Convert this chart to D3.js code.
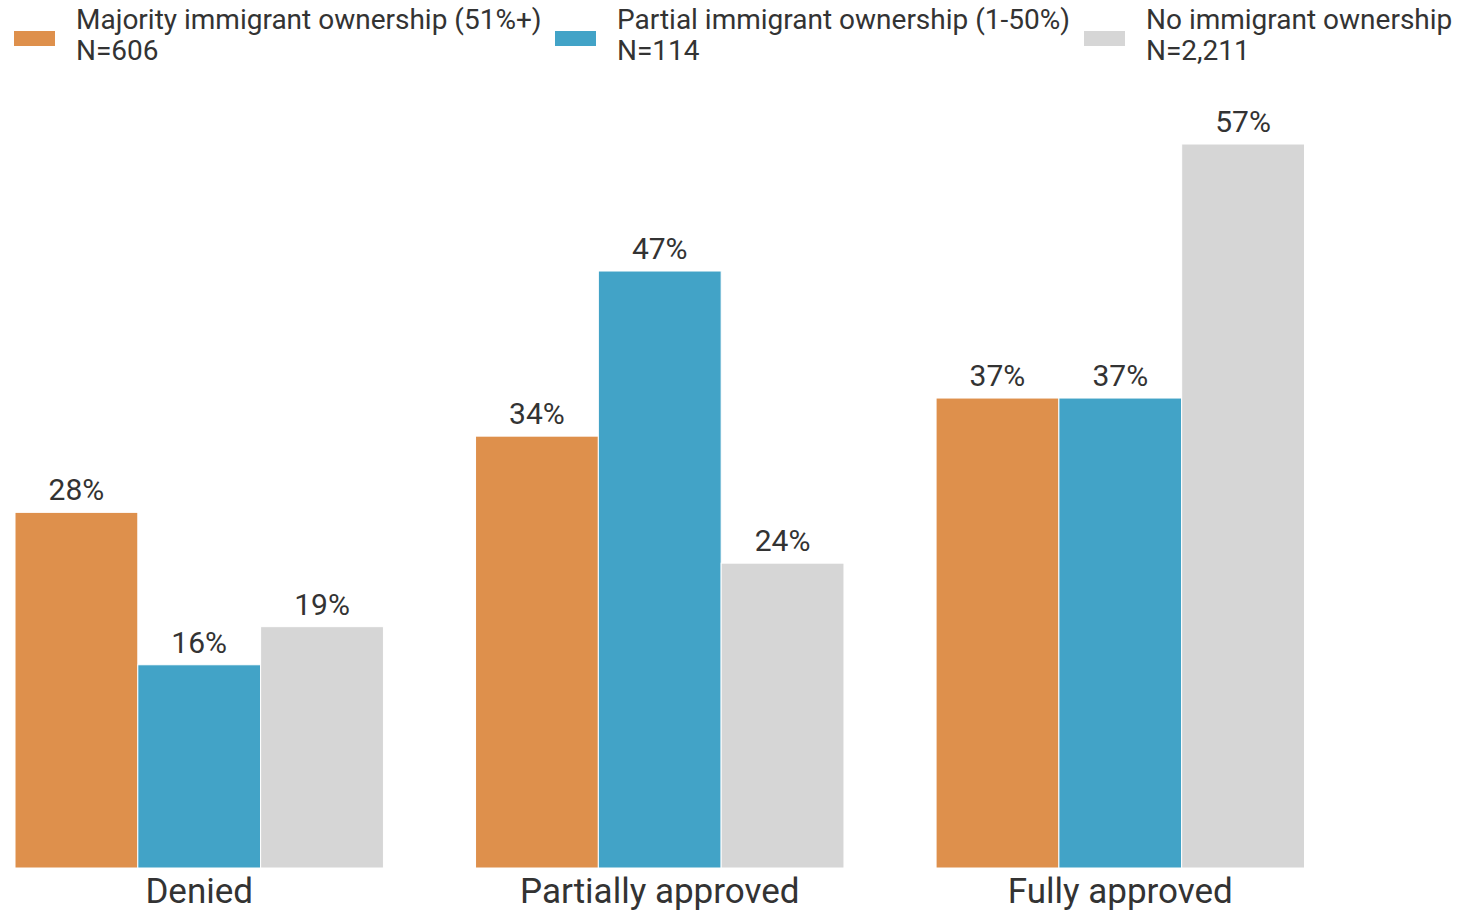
<!DOCTYPE html>
<html>
<head>
<meta charset="utf-8">
<script src="https://cdn.jsdelivr.net/npm/d3@7"></script>
<style>
  body { margin: 0; background: #fff; }
  svg { font-family: Roboto, "Open Sans", sans-serif; }
</style>
</head>
<body>
<div id="chart"></div>
<script>
const categories = ["Denied", "Partially approved", "Fully approved"];
const seriesNames = [
  "Majority immigrant ownership (51%+)",
  "Partial immigrant ownership (1-50%)",
  "No immigrant ownership"
];
const seriesN = ["N=606", "N=114", "N=2,211"];
const majorityValues = [28, 34, 37];
const partialValues = [16, 47, 37];
const noneValues = [19, 24, 57];
const colors = ["#de904c", "#42a3c7", "#d6d6d6"];

const width = 1460, height = 912;
const margin = { top: 0, right: 155.5, bottom: 44, left: 15 };
const baseline = height - margin.bottom; // 868

const svg = d3.select("#chart").append("svg")
  .attr("width", width)
  .attr("height", height);

const allSeries = [majorityValues, partialValues, noneValues];
const data = categories.map((c, i) => ({
  category: c,
  values: allSeries.map((vals, s) => ({ series: s, value: vals[i] }))
}));

const x0 = d3.scaleBand()
  .domain(categories)
  .range([margin.left, width - margin.right])
  .paddingInner(0.2)
  .paddingOuter(0);

const x1 = d3.scaleBand()
  .domain([0, 1, 2])
  .range([0, x0.bandwidth()])
  .padding(0);

const y = d3.scaleLinear()
  .domain([0, 57])
  .range([baseline, 144]);

const groups = svg.selectAll(".group")
  .data(data)
  .join("g")
  .attr("class", "group")
  .attr("transform", d => `translate(${x0(d.category)},0)`);

groups.selectAll("rect")
  .data(d => d.values)
  .join("rect")
  .attr("x", d => x1(d.series))
  .attr("width", x1.bandwidth())
  .attr("y", d => y(d.value))
  .attr("height", d => baseline - y(d.value))
  .attr("fill", d => colors[d.series])
  .attr("stroke", "#fff")
  .attr("stroke-width", 1);

groups.selectAll(".val")
  .data(d => d.values)
  .join("text")
  .attr("class", "val")
  .attr("x", d => x1(d.series) + x1.bandwidth() / 2)
  .attr("y", d => y(d.value) - 12)
  .attr("text-anchor", "middle")
  .attr("fill", "#333")
  .style("font-size", "30px")
  .text(d => d.value + "%");

// category axis labels
const xAxis = d3.axisBottom(x0).tickSize(0).tickPadding(10);
const axisG = svg.append("g")
  .attr("transform", `translate(0,${baseline})`)
  .call(xAxis);
axisG.select(".domain").remove();
axisG.selectAll("text")
  .attr("fill", "#333")
  .style("font-family", "Roboto, sans-serif")
  .style("font-size", "35px");

// legend
const legendX = [14, 555, 1084];
const legend = svg.selectAll(".legend")
  .data(seriesNames)
  .join("g")
  .attr("class", "legend")
  .attr("transform", (d, i) => `translate(${legendX[i]},0)`);

legend.append("rect")
  .attr("x", 0)
  .attr("y", 31)
  .attr("width", 41)
  .attr("height", 15)
  .attr("fill", (d, i) => colors[i]);

legend.append("text")
  .attr("x", 62)
  .attr("y", 29)
  .attr("fill", "#333")
  .style("font-size", "28px")
  .text(d => d);

legend.append("text")
  .attr("x", 62)
  .attr("y", 60)
  .attr("fill", "#333")
  .style("font-size", "28px")
  .text((d, i) => seriesN[i]);
</script>
</body>
</html>
